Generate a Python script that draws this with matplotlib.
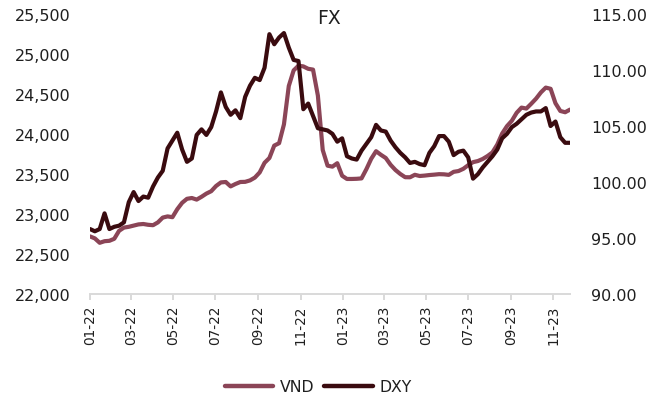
import matplotlib
matplotlib.use("Agg")
import matplotlib.pyplot as plt
import matplotlib.dates as mdates
from matplotlib.ticker import FuncFormatter, MultipleLocator
import pandas as pd

plt.rcParams['font.family'] = ['DejaVu Sans']

title = "FX"
series_names = ["VND", "DXY"]
start_date = "2022-01-01"

vnd = [22720, 22695, 22640, 22660, 22665, 22690, 22790, 22830, 22840, 22855,
       22870, 22875, 22865, 22860, 22895, 22955, 22970, 22960, 23060, 23140,
       23190, 23200, 23180, 23215, 23255, 23285, 23350, 23395, 23400, 23345,
       23375, 23400, 23402, 23420, 23455, 23520, 23640, 23700, 23855, 23885,
       24120, 24600, 24795, 24854, 24845, 24815, 24805, 24480, 23800, 23604,
       23592, 23635, 23478, 23438, 23438, 23440, 23445, 23560, 23690, 23785,
       23740, 23700, 23615, 23550, 23500, 23460, 23459, 23490, 23475, 23480,
       23487, 23492, 23498, 23496, 23489, 23527, 23537, 23565, 23610, 23648,
       23662, 23688, 23725, 23770, 23868, 24005, 24098, 24165, 24265, 24330,
       24318, 24378, 24442, 24520, 24580, 24565, 24385, 24288, 24272, 24305]

dxy = [95.8, 95.6, 95.8, 97.2, 95.8, 96.0, 96.1, 96.4, 98.2, 99.1,
       98.3, 98.7, 98.6, 99.6, 100.4, 101.0, 103.0, 103.7, 104.4, 102.9,
       101.8, 102.1, 104.2, 104.7, 104.2, 104.9, 106.3, 108.0, 106.7, 106.0,
       106.4, 105.7, 107.6, 108.6, 109.3, 109.1, 110.2, 113.2, 112.3, 112.9,
       113.3, 112.0, 110.9, 110.8, 106.5, 107.0, 105.9, 104.8, 104.7, 104.6,
       104.3, 103.6, 103.9, 102.3, 102.1, 102.0, 102.8, 103.4, 104.0, 105.1,
       104.6, 104.5, 103.7, 103.1, 102.6, 102.2, 101.7, 101.8, 101.6, 101.5,
       102.6, 103.2, 104.1, 104.1, 103.6, 102.4, 102.7, 102.8, 102.2, 100.3,
       100.7, 101.3, 101.8, 102.3, 102.9, 103.9, 104.3, 104.9, 105.2, 105.6,
       106.0, 106.2, 106.3, 106.3, 106.6, 105.0, 105.4, 104.0, 103.5, 103.5]

dates = pd.date_range(start_date, periods=len(vnd), freq="7D")
tick_dates = pd.date_range("2022-01-01", "2023-11-01", freq="2MS")

c_vnd = "#8B4557"
c_dxy = "#3A0B0F"
c_axis = "#D9D9D9"
c_text = "#1F1F1F"
fs = 11.5
fs_x = 9.8

fig = plt.figure(figsize=(6.6, 4.06), dpi=100)
W, H = 660, 406
ax1 = fig.add_axes([90 / W, 1 - 295 / H, 480 / W, 280 / H])
ax2 = ax1.twinx()

l1, = ax1.plot(dates, vnd, color=c_vnd, lw=3.0, solid_joinstyle="round",
               solid_capstyle="round", label=series_names[0])
l2, = ax2.plot(dates, dxy, color=c_dxy, lw=3.0, solid_joinstyle="round",
               solid_capstyle="round", label=series_names[1])

ax1.set_xlim(dates[0], dates[-1])
ax1.set_ylim(22000, 25500)
ax2.set_ylim(90, 115)
ax1.yaxis.set_major_locator(MultipleLocator(500))
ax2.yaxis.set_major_locator(MultipleLocator(5))
ax1.yaxis.set_major_formatter(FuncFormatter(lambda v, p: f"{v:,.0f}"))
ax2.yaxis.set_major_formatter(FuncFormatter(lambda v, p: f"{v:.2f}"))

ax1.set_xticks(tick_dates)
ax1.xaxis.set_major_formatter(mdates.DateFormatter("%m-%y"))

for ax in (ax1, ax2):
    for s in ax.spines.values():
        s.set_visible(False)
ax1.spines["bottom"].set_visible(True)
ax1.spines["bottom"].set_color(c_axis)
ax1.spines["bottom"].set_linewidth(1.4)

ax1.tick_params(axis="x", length=4.3, width=1.4, color=c_axis, pad=3.5,
                labelsize=fs_x, labelcolor=c_text, labelrotation=90)
ax1.tick_params(axis="y", length=0, pad=13.8, labelsize=fs, labelcolor=c_text)
ax2.tick_params(axis="y", length=0, pad=15, labelsize=fs, labelcolor=c_text)

fig.text(329 / W, 1 - 19 / H, title, ha="center", va="center",
         fontsize=13.5, color=c_text)

leg = fig.legend(handles=[l1, l2], loc="center", ncol=2, frameon=False,
                 bbox_to_anchor=(318 / W, 1 - 388 / H), fontsize=11.3,
                 handlelength=3.1, handletextpad=0.4, columnspacing=0.65)
for t in leg.get_texts():
    t.set_color(c_text)
for h in leg.get_lines():
    h.set_linewidth(3.2)

fig.savefig("out.png", dpi=100)
